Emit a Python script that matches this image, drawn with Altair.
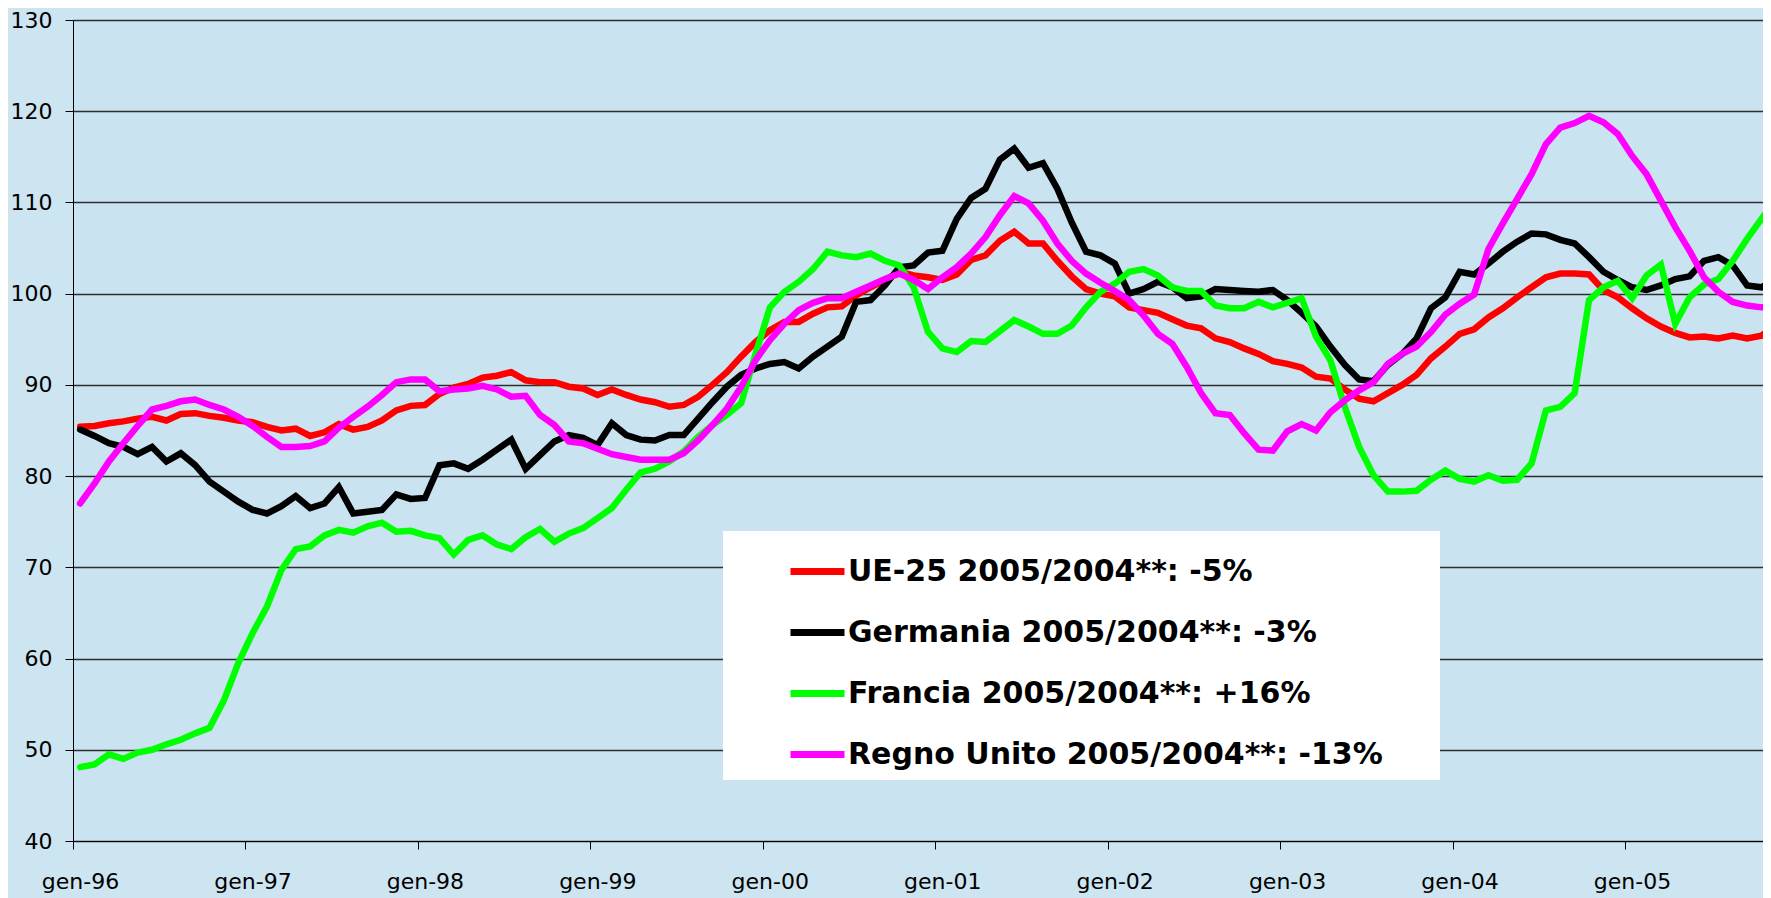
import altair as alt
import pandas as pd

# ---- data (monthly, gen-96 ... ) ----
tick_labels = ["gen-96", "gen-97", "gen-98", "gen-99", "gen-00",
               "gen-01", "gen-02", "gen-03", "gen-04", "gen-05"]

series_names = [
    "UE-25 2005/2004**: -5%",
    "Germania 2005/2004**: -3%",
    "Francia 2005/2004**: +16%",
    "Regno Unito 2005/2004**: -13%",
]
series_colors = ["#ff0000", "#000000", "#00ff00", "#ff00ff"]

ue25 = [
    85.4, 85.5, 85.8, 86.0, 86.3, 86.5, 86.1, 86.8, 86.9, 86.6, 86.4, 86.1, 85.9, 85.4, 85.0, 85.2, 84.4, 84.8, 85.7, 85.1,
    85.4, 86.1, 87.2, 87.7, 87.8, 89.0, 89.7, 90.1, 90.8, 91.0, 91.4, 90.5, 90.3, 90.3, 89.8, 89.6, 88.9, 89.5, 88.9, 88.4,
    88.1, 87.6, 87.8, 88.7, 90.0, 91.4, 93.1, 94.7, 96.0, 96.9, 96.9, 97.8, 98.5, 98.6, 99.8, 100.7, 101.5, 102.4, 102.0, 101.8,
    101.5, 102.1, 103.7, 104.2, 105.8, 106.8, 105.5, 105.5, 103.6, 101.9, 100.5, 100.0, 99.7, 98.5, 98.2, 97.9, 97.2, 96.5, 96.2, 95.1,
    94.7, 94.0, 93.4, 92.6, 92.3, 91.9, 90.9, 90.7, 89.5, 88.5, 88.2, 89.1, 90.0, 91.1, 92.9, 94.2, 95.6, 96.1, 97.4, 98.4,
    99.6, 100.7, 101.8, 102.2, 102.2, 102.1, 100.4, 99.6, 98.4, 97.3, 96.4, 95.7, 95.2, 95.3, 95.1, 95.4, 95.1, 95.4, 96.5,
]
germania = [
    85.1, 84.4, 83.6, 83.2, 82.4, 83.2, 81.6, 82.5, 81.2, 79.4, 78.3, 77.2, 76.3, 75.9, 76.7, 77.8, 76.5, 77.0, 78.8, 75.9,
    76.1, 76.3, 78.0, 77.5, 77.6, 81.2, 81.4, 80.8, 81.8, 82.9, 84.0, 80.8, 82.3, 83.8, 84.5, 84.2, 83.4, 85.8, 84.5, 84.0,
    83.9, 84.5, 84.5, 86.3, 88.1, 89.8, 91.1, 91.8, 92.3, 92.5, 91.8, 93.1, 94.2, 95.3, 99.1, 99.3, 100.9, 102.9, 103.1, 104.5,
    104.7, 108.2, 110.5, 111.5, 114.7, 115.9, 113.8, 114.3, 111.5, 107.8, 104.6, 104.2, 103.3, 100.0, 100.5, 101.3, 100.7, 99.5, 99.7, 100.5,
    100.4, 100.3, 100.2, 100.4, 99.3, 97.9, 96.4, 94.2, 92.2, 90.6, 90.4, 92.2, 93.4, 95.1, 98.4, 99.6, 102.4, 102.1, 103.3, 104.6,
    105.7, 106.6, 106.5, 105.9, 105.5, 104.0, 102.4, 101.5, 100.7, 100.4, 100.9, 101.6, 101.9, 103.6, 104.0, 103.1, 100.9, 100.7, 101.5,
]
francia = [
    48.1, 48.4, 49.5, 49.0, 49.7, 50.0, 50.6, 51.1, 51.8, 52.4, 55.4, 59.5, 62.8, 65.7, 69.7, 72.0, 72.3, 73.5, 74.1, 73.8,
    74.5, 74.9, 73.9, 74.0, 73.5, 73.2, 71.4, 73.0, 73.5, 72.5, 72.0, 73.3, 74.2, 72.8, 73.7, 74.3, 75.4, 76.5, 78.5, 80.4,
    80.8, 81.6, 82.7, 84.3, 85.6, 86.7, 88.0, 93.4, 98.5, 100.2, 101.3, 102.7, 104.6, 104.2, 104.0, 104.4, 103.6, 103.1, 100.7, 95.8,
    94.0, 93.6, 94.8, 94.7, 95.9, 97.1, 96.4, 95.6, 95.6, 96.5, 98.5, 100.2, 101.1, 102.4, 102.7, 102.0, 100.7, 100.3, 100.3, 98.7,
    98.4, 98.4, 99.1, 98.5, 99.0, 99.5, 95.3, 92.7, 87.6, 83.2, 80.1, 78.3, 78.3, 78.4, 79.6, 80.6, 79.7, 79.4, 80.1, 79.5,
    79.6, 81.4, 87.2, 87.6, 89.1, 99.3, 100.7, 101.4, 99.5, 102.0, 103.2, 96.7, 99.6, 101.0, 101.6, 103.6, 106.0, 108.2, 110.4,
]
regno_unito = [
    77.0, 79.2, 81.6, 83.6, 85.5, 87.3, 87.7, 88.2, 88.4, 87.8, 87.3, 86.5, 85.5, 84.3, 83.2, 83.2, 83.3, 83.8, 85.3, 86.5,
    87.6, 88.9, 90.3, 90.6, 90.6, 89.3, 89.5, 89.6, 89.9, 89.5, 88.7, 88.8, 86.7, 85.6, 83.8, 83.6, 83.0, 82.4, 82.1, 81.8,
    81.8, 81.8, 82.5, 83.9, 85.6, 87.4, 89.8, 92.7, 94.9, 96.7, 98.2, 99.0, 99.5, 99.5, 100.2, 100.9, 101.6, 102.2, 101.5, 100.5,
    101.8, 102.9, 104.4, 106.2, 108.6, 110.7, 109.9, 108.0, 105.5, 103.6, 102.2, 101.2, 100.3, 99.3, 97.6, 95.6, 94.5, 92.0, 89.1, 86.9,
    86.7, 84.7, 82.9, 82.8, 84.9, 85.7, 85.0, 87.0, 88.3, 89.4, 90.3, 92.3, 93.4, 94.2, 95.8, 97.7, 98.9, 99.9, 104.9, 107.7,
    110.4, 113.1, 116.4, 118.2, 118.7, 119.5, 118.8, 117.5, 115.1, 113.1, 110.2, 107.3, 104.7, 101.8, 100.2, 99.1, 98.7, 98.5, 98.6,
]

all_values = [ue25, germania, francia, regno_unito]

rows = []
for name, vals in zip(series_names, all_values):
    for i, v in enumerate(vals):
        rows.append({"mese": i + 0.5, "serie": name, "valore": v})
df = pd.DataFrame(rows)

label_array = "[" + ",".join("'" + t + "'" for t in tick_labels) + "]"

PLOT_W = 1690
PX_PER_MONTH = 14.37
x_max = PLOT_W / PX_PER_MONTH

# blank (braille) characters pad the white legend box on the right
pad_blank = "\u2800" * 2

chart = alt.Chart(df).mark_line(
    strokeWidth=6.5, clip=True, strokeCap="round", strokeJoin="miter"
).encode(
    x=alt.X(
        "mese:Q",
        scale=alt.Scale(domain=[0, x_max], nice=False, zero=False),
        axis=alt.Axis(
            values=list(range(0, 109, 12)),
            labelExpr=label_array + "[round(datum.value / 12)]",
            title=None, grid=False, tickSize=8, tickColor="black", tickWidth=1,
            domainColor="black", domainWidth=1, labelPadding=22, labelOffset=7,
            labelFont="DejaVu Sans", labelFontSize=22, labelColor="black",
            labelFlush=False, labelOverlap=False,
        ),
    ),
    y=alt.Y(
        "valore:Q",
        scale=alt.Scale(domain=[40, 130], nice=False, zero=False),
        axis=alt.Axis(
            values=list(range(40, 131, 10)),
            title=None, grid=True, gridColor="#2e2e2e", gridWidth=1.3,
            tickSize=8, tickColor="black", tickWidth=1,
            domainColor="black", domainWidth=1, labelPadding=13,
            labelFont="DejaVu Sans", labelFontSize=22, labelColor="black",
        ),
    ),
    color=alt.Color(
        "serie:N",
        scale=alt.Scale(domain=series_names, range=series_colors),
        legend=alt.Legend(
            title=None, orient="none", legendX=650, legendY=511,
            fillColor="white", padding=10, symbolType="stroke",
            symbolSize=2916, symbolStrokeWidth=7, symbolOffset=54,
            labelFont="DejaVu Sans", labelFontSize=30, labelFontWeight="bold",
            labelColor="black", rowPadding=15, labelOffset=0, labelLimit=900,
            labelExpr="datum.label + '" + pad_blank + "'",
        ),
    ),
).properties(
    width=PLOT_W,
    height=821,
    autosize=alt.AutoSizeParams(type="none"),
    padding={"left": 65, "top": 12, "right": 0, "bottom": 57},
    background="#cde4f1",
).configure_view(
    strokeWidth=0,
    fill="#cae3f1",
)

chart.save("out.html", embed_options={"renderer": "svg", "actions": False})
